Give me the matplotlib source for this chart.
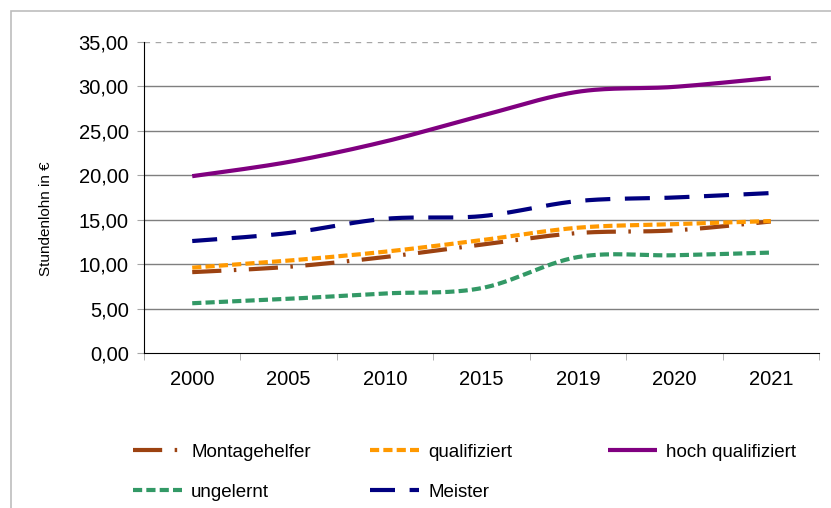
import numpy as np
import matplotlib
matplotlib.use('Agg')
import matplotlib.pyplot as plt
from matplotlib.patches import Rectangle

plt.rcParams['font.family'] = ['Liberation Sans', 'DejaVu Sans']

# Data
years = ['2000', '2005', '2010', '2015', '2019', '2020', '2021']
montagehelfer = [9.1, 9.7, 10.8, 12.2, 13.5, 13.8, 14.8]
qualifiziert = [9.6, 10.4, 11.4, 12.7, 14.1, 14.5, 14.85]
hoch_qualifiziert = [19.9, 21.5, 23.8, 26.7, 29.4, 29.95, 30.95]
ungelernt = [5.6, 6.1, 6.7, 7.3, 10.8, 11.0, 11.3]
meister = [12.6, 13.5, 15.1, 15.4, 17.1, 17.5, 18.0]
yticks = [0, 5, 10, 15, 20, 25, 30, 35]


def smooth(x, y, n=30):
    # Excel-like smoothed line (Catmull-Rom Bezier through the points)
    x = np.asarray(x, float)
    y = np.asarray(y, float)
    xs, ys = [], []
    for i in range(len(x) - 1):
        x0, y0 = (x[i - 1], y[i - 1]) if i > 0 else (x[i], y[i])
        x3, y3 = (x[i + 2], y[i + 2]) if i + 2 < len(x) else (x[i + 1], y[i + 1])
        p0 = np.array([x[i], y[i]])
        p3 = np.array([x[i + 1], y[i + 1]])
        p1 = p0 + (p3 - np.array([x0, y0])) / 6
        p2 = p3 - (np.array([x3, y3]) - p0) / 6
        t = np.linspace(0, 1, n)[:, None]
        pts = ((1 - t) ** 3) * p0 + 3 * ((1 - t) ** 2) * t * p1 + 3 * (1 - t) * t ** 2 * p2 + t ** 3 * p3
        xs.extend(pts[:, 0])
        ys.extend(pts[:, 1])
    return np.array(xs), np.array(ys)


series = [
    ('Montagehelfer', montagehelfer, dict(color='#9C4211', dashes=(7, 3, 0.6, 3))),
    ('qualifiziert', qualifiziert, dict(color='#FF9900', dashes=(2.2, 1))),
    ('hoch qualifiziert', hoch_qualifiziert, dict(color='#800080', linestyle='-')),
    ('ungelernt', ungelernt, dict(color='#339966', dashes=(2.2, 1))),
    ('Meister', meister, dict(color='#000080', dashes=(6, 3.5))),
]

fig = plt.figure(figsize=(8.31, 5.08), dpi=100)
W, H = 831, 508
ax = fig.add_axes([144 / W, 1 - 353 / H, (819 - 144) / W, (353 - 42) / H])

# outer chart border
fig.patches.append(Rectangle((11 / W, -0.5), 1.5, 1.5 - 11 / H,
                             transform=fig.transFigure, fill=False,
                             edgecolor='#BDBDBD', linewidth=1.2, zorder=0))

x = np.arange(len(years))
handles = []
for name, vals, style in series:
    xs, ys = smooth(x, vals)
    ln, = ax.plot(xs, ys, linewidth=3, solid_capstyle='butt', label=name, **style)
    handles.append(ln)

ax.set_xlim(-0.5, len(years) - 0.5)
ax.set_ylim(0, 35)

# gridlines
for v in yticks[1:-1]:
    ax.axhline(v, color='#7F7F7F', linewidth=1, zorder=0)
ax.axhline(35, color='#A6A6A6', linewidth=1, linestyle=(0, (4, 4)), zorder=0)

ax.set_yticks(yticks)
ax.set_yticklabels([f'{v:.2f}'.replace('.', ',') for v in yticks], fontsize=14.5)
ax.set_xticks(x)
ax.set_xticklabels(years, fontsize=14.5)
ax.set_xticks(np.arange(-0.5, len(years)), minor=True)
ax.tick_params(axis='x', which='major', length=0, pad=12)
ax.tick_params(axis='x', which='minor', length=5, color='#A6A6A6', direction='out')
ax.tick_params(axis='y', length=5, color='#A6A6A6', direction='out', pad=6)

for s in ['top', 'right']:
    ax.spines[s].set_visible(False)
ax.spines['left'].set_color('black')
ax.spines['bottom'].set_color('black')

fig.text(46 / W, 1 - 219 / H, 'Stundenlohn in €', rotation=90, fontsize=11,
         ha='center', va='center')

# legend, one entry per position
spots = [(133, 452), (370, 452), (608, 452), (133, 492), (370, 492)]
for h, (px, py) in zip(handles, spots):
    fig.legend([h], [h.get_label()], loc='center left',
               bbox_to_anchor=(px / W, 1 - py / H), frameon=False,
               fontsize=13.5, handlelength=2.6, handletextpad=0.5,
               borderpad=0, borderaxespad=0)

fig.savefig('out.png', dpi=100)
